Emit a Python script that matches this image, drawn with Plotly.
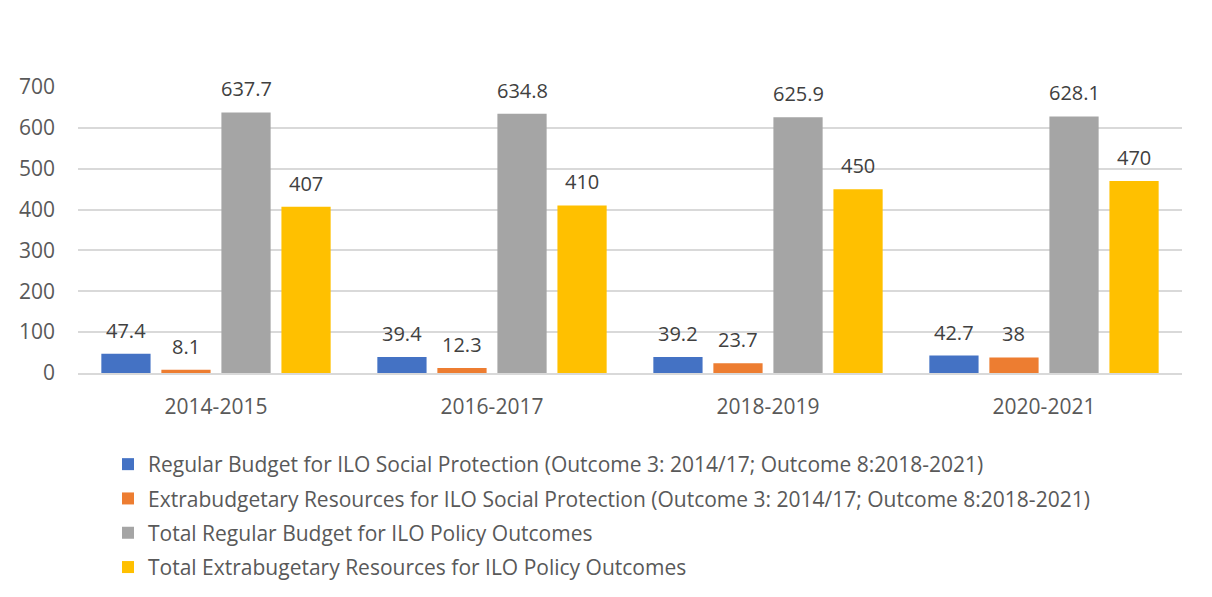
import plotly.graph_objects as go

categories = ["2014-2015", "2016-2017", "2018-2019", "2020-2021"]
series_names = [
    "Regular Budget for ILO Social Protection (Outcome 3: 2014/17; Outcome 8:2018-2021)",
    "Extrabudgetary Resources for ILO Social Protection (Outcome 3: 2014/17; Outcome 8:2018-2021)",
    "Total Regular Budget for ILO Policy Outcomes",
    "Total Extrabugetary Resources for ILO Policy Outcomes",
]
regular_sp = [47.4, 39.4, 39.2, 42.7]
extra_sp = [8.1, 12.3, 23.7, 38]
total_regular = [637.7, 634.8, 625.9, 628.1]
total_extra = [407, 410, 450, 470]
y_ticks = [0, 100, 200, 300, 400, 500, 600, 700]

series_values = [regular_sp, extra_sp, total_regular, total_extra]
colors = ["#4472C4", "#ED7D31", "#A5A5A5", "#FFC000"]

FONT = "Open Sans, Liberation Sans, sans-serif"
OFF = 8  # page body margin offset
W, H = 1212 - OFF, 597 - 2 * OFF
# reference pixel geometry of plot area
REF_L, REF_R, REF_T, REF_B = 78, 1182, 87, 373
L = REF_L - OFF
T = REF_T - OFF
R = W - (REF_R - OFF)
B = H - (REF_B - OFF)
pw = W - L - R
ph = H - T - B
BARGAP = 0.13


def px_to_x(p):
    return (p - OFF - L) / pw


def py_to_y(p):
    return (H - B - (p - OFF)) / ph


fig = go.Figure()
n = len(series_values)
cat_px = pw / len(categories)
slot_px = cat_px * (1 - BARGAP) / n
for i, (name, vals, col) in enumerate(zip(series_names, series_values, colors)):
    fig.add_trace(go.Bar(
        x=categories, y=vals, name=name,
        marker=dict(color=col, line=dict(width=0)),
        legendgroup=f"g{i}",
    ))
    shift = (i - (n - 1) / 2) * slot_px
    for c, v in zip(categories, vals):
        fig.add_annotation(
            x=c, y=v, xref="x", yref="y", text=f"{v:g}", showarrow=False,
            xanchor="center", yanchor="bottom", xshift=shift, yshift=8,
            font=dict(size=20, color="#404040", family=FONT),
        )

fig.update_layout(
    width=W, height=H,
    margin=dict(l=L, r=R, t=T, b=B, autoexpand=False),
    paper_bgcolor="white", plot_bgcolor="white",
    barmode="group", bargap=BARGAP, bargroupgap=0.18,
    font=dict(family=FONT, color="#595959", size=21),
    xaxis=dict(
        showgrid=False, showline=True, linecolor="#D9D9D9", linewidth=1.5,
        ticks="", tickfont=dict(size=21, color="#595959"), ticklabelstandoff=14,
    ),
    yaxis=dict(
        range=[0, 700], tickvals=y_ticks, showgrid=True, gridcolor="#D9D9D9", gridwidth=1.5,
        zeroline=False, showline=False, ticks="",
        tickfont=dict(size=21, color="#595959"), ticklabelstandoff=22,
    ),
    showlegend=True,
    legend=dict(
        orientation="v", x=px_to_x(108), xanchor="left", y=py_to_y(444), yanchor="top",
        font=dict(size=21, color="#595959"), tracegroupgap=4, bgcolor="rgba(0,0,0,0)",
    ),
    shapes=[
        dict(type="line", xref="paper", yref="paper", x0=px_to_x(1206), x1=px_to_x(1206),
             y0=py_to_y(9), y1=py_to_y(595), line=dict(color="#D9D9D9", width=2)),
    ],
)

fig.write_html("out.html")
